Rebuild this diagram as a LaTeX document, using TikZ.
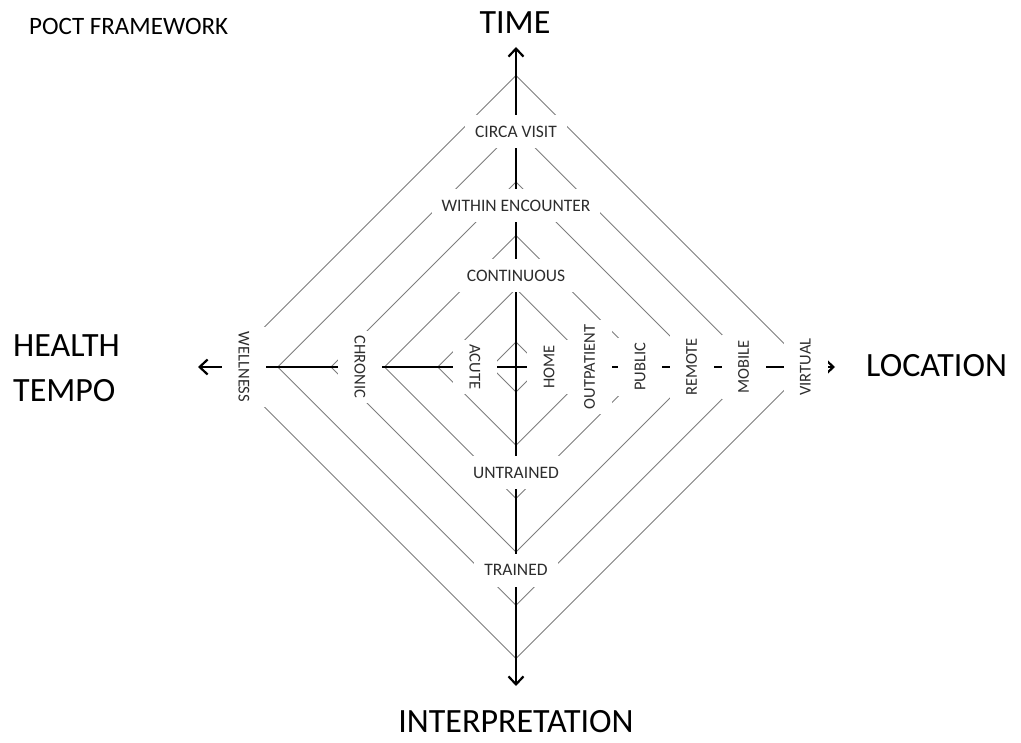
\documentclass[tikz,border=0pt]{standalone}
\usepackage{fontspec}
\setmainfont{Carlito}
\usetikzlibrary{arrows.meta}
\definecolor{ringgray}{RGB}{125,125,125}
\definecolor{labelgray}{RGB}{45,45,45}
\begin{document}
\begin{tikzpicture}[x=1pt,y=-1pt,
  ring/.style={draw=ringgray,line width=0.9pt},
  axis/.style={draw=black,line width=2.7pt},
  barb/.tip={Straight Barb[length=8pt,width=15pt,line width=2.2pt]},
  hlab/.style={fill=white,text=labelgray,font=\fontsize{17.5}{20}\selectfont,
    inner xsep=10pt,inner ysep=0pt,minimum height=33pt},
  vlab/.style={fill=white,text=labelgray,font=\fontsize{16.5}{19}\selectfont,
    inner xsep=5pt,inner ysep=0pt,minimum height=44pt},
  title/.style={font=\fontsize{34}{40}\selectfont,inner sep=0pt}]
\useasboundingbox (0,0) rectangle (1021,743);

% centre of the framework
\coordinate (c) at (516,367);

% nested levels
\foreach \r in {25,78.3,131.6,184.9,238.2,291.5}
  \draw[ring] (516,{367-\r}) -- ({516+\r},367) -- (516,{367+\r}) -- ({516-\r},367) -- cycle;

% axis ends
\coordinate (up) at (516,47);
\coordinate (down) at (516,686);
\coordinate (west) at (198,367);
\coordinate (east) at (835,367);

\draw[axis,barb-barb] (down) -- (up);
\draw[axis,barb-barb] (west) -- (east);

% time
\node[hlab] (circa) at (516,132) {CIRCA VISIT};
\node[hlab] (within) at (516,205.5) {WITHIN ENCOUNTER};
\node[hlab] (cont) at (516,275.5) {CONTINUOUS};
% interpretation
\node[hlab] (untrained) at (516,472.5) {UNTRAINED};
\node[hlab] (trained) at (516,570) {TRAINED};
% health tempo
\node[vlab,rotate=-90] (wellness) at (244,367) {WELLNESS};
\node[vlab,rotate=-90] (chronic) at (360,367) {CHRONIC};
\node[vlab,rotate=-90] (acute) at (475,367) {ACUTE};
% location
\node[vlab,rotate=90] (home) at (549,367) {HOME};
\node[vlab,rotate=90] (outpatient) at (589.5,367) {OUTPATIENT};
\node[vlab,rotate=90] (public) at (640,367) {PUBLIC};
\node[vlab,rotate=90] (remote) at (691.5,367) {REMOTE};
\node[vlab,rotate=90] (mobile) at (743.5,367) {MOBILE};
\node[vlab,rotate=90] (virtual) at (805.5,367) {VIRTUAL};

% titles
\node[font=\fontsize{25}{30}\selectfont,inner sep=0pt,anchor=west] (poct) at (29,26) {POCT FRAMEWORK};
\node[title] (time) at (515,23) {TIME};
\node[title] (interp) at (516,722) {INTERPRETATION};
\node[title,anchor=west] (health) at (13,346) {HEALTH};
\node[title,anchor=west] (tempo) at (13,391) {TEMPO};
\node[title,anchor=west] (location) at (866,366) {LOCATION};
\end{tikzpicture}
\end{document}
